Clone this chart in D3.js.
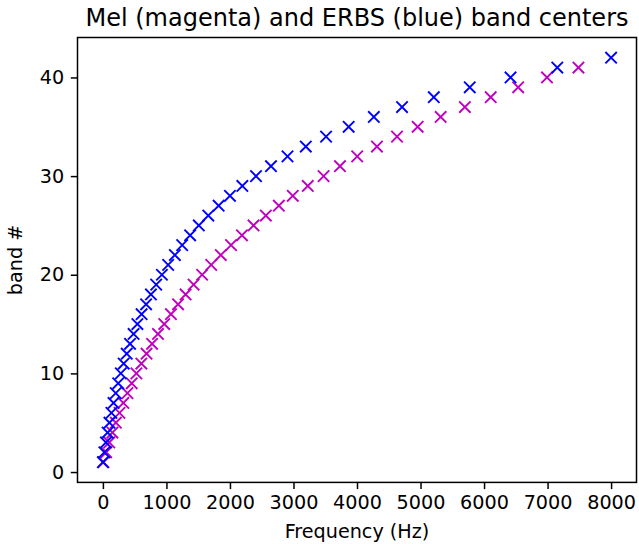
<!DOCTYPE html>
<html lang="en">
<head>
<meta charset="UTF-8">
<title>Mel and ERBS band centers</title>
<style>
  body { margin: 0; background: #fff; }
  text { font-family: "DejaVu Sans", sans-serif; fill: #000; }
  .axis path, .axis line { stroke: #000; stroke-width: 1.5px; }
</style>
</head>
<body>
<svg id="chart" width="639" height="544"></svg>
<script src="https://cdn.jsdelivr.net/npm/d3@7"></script>
<script>
// band centre frequencies (Hz), band # starts at 1
var melCenters = [8, 52, 100, 150, 204, 261, 322, 386, 454, 527, 605, 687, 774, 867,
  966, 1071, 1183, 1302, 1428, 1562, 1705, 1856, 2017, 2189, 2371, 2565, 2770, 2989,
  3225, 3474, 3732, 4003, 4314, 4630, 4955, 5317, 5698, 6105, 6537, 6991, 7486];
var erbsCenters = [0, 23, 48, 74, 103, 134, 167, 202, 241, 282, 327, 375, 427, 483,
  543, 609, 680, 756, 839, 929, 1027, 1133, 1248, 1373, 1510, 1659, 1822, 2000, 2195,
  2410, 2646, 2906, 3194, 3513, 3869, 4265, 4709, 5209, 5775, 6417, 7153, 8000];
var xTicks = [0, 1000, 2000, 3000, 4000, 5000, 6000, 7000, 8000];
var yTicks = [0, 10, 20, 30, 40];

var margin = {left: 77.5, right: 2.5, top: 37.5, bottom: 61.6};
var W = 639, H = 544;
var svg = d3.select("#chart");

var x = d3.scaleLinear().domain([-400, 8400]).range([margin.left, W - margin.right]);
var y = d3.scaleLinear().domain([-1.05, 44.05]).range([H - margin.bottom, margin.top]);

var tickLen = 6.7, tickPad = 6.7, fs = 19.2;

// marks
var xMark = "M-5.7,-5.7L5.7,5.7M-5.7,5.7L5.7,-5.7";
function drawSeries(data, color) {
  svg.append("g").selectAll("path")
    .data(data)
    .enter().append("path")
      .attr("d", xMark)
      .attr("transform", function(d, i) { return "translate(" + x(d) + "," + y(i + 1) + ")"; })
      .attr("fill", "none")
      .attr("stroke", color)
      .attr("stroke-width", 1.9);
}
drawSeries(melCenters, "#bf00bf");
drawSeries(erbsCenters, "#0000ff");

// axes
var gx = svg.append("g").attr("class", "axis")
  .attr("transform", "translate(0," + (H - margin.bottom) + ")")
  .call(d3.axisBottom(x).tickValues(xTicks).tickFormat(d3.format("d")).tickSize(tickLen).tickPadding(tickPad));
var gy = svg.append("g").attr("class", "axis")
  .attr("transform", "translate(" + margin.left + ",0)")
  .call(d3.axisLeft(y).tickValues(yTicks).tickFormat(d3.format("d")).tickSize(tickLen).tickPadding(tickPad));
svg.selectAll(".axis path").remove();
svg.selectAll(".axis text").style("font-size", fs + "px").attr("fill", "#000");

// frame
svg.append("rect")
  .attr("x", margin.left).attr("y", margin.top)
  .attr("width", W - margin.right - margin.left)
  .attr("height", H - margin.bottom - margin.top)
  .attr("fill", "none").attr("stroke", "#000").attr("stroke-width", 1.5);

// labels
svg.append("text")
  .attr("x", (margin.left + W - margin.right) / 2).attr("y", 26)
  .attr("text-anchor", "middle").style("font-size", "24px")
  .text("Mel (magenta) and ERBS (blue) band centers");
svg.append("text")
  .attr("x", (margin.left + W - margin.right) / 2).attr("y", 538)
  .attr("text-anchor", "middle").style("font-size", fs + "px")
  .text("Frequency (Hz)");
svg.append("text")
  .attr("transform", "translate(22," + ((margin.top + H - margin.bottom) / 2) + ") rotate(-90)")
  .attr("text-anchor", "middle").style("font-size", fs + "px")
  .text("band #");
</script>
</body>
</html>
